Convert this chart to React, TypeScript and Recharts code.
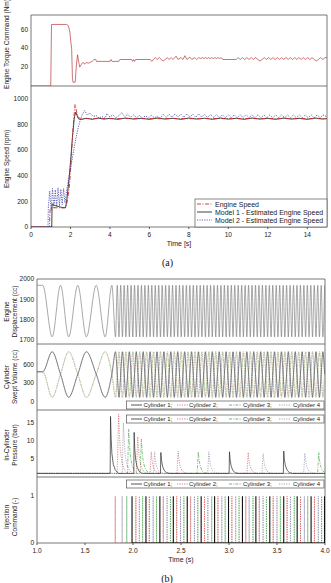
import React from "react";
import { LineChart, Line, XAxis, YAxis, ReferenceArea } from "recharts";

type Pt = [number, number];

const FONT = "'Liberation Sans', Arial, sans-serif";
const AX = "#555";

// ---------- (a) torque command and engine speed, time in s ----------
const torqueCommand: Pt[] = [
  [0, 0], [1.0, 0], [1.04, 65], [1.8, 65], [1.88, 64], [1.94, 60], [1.98, 55], [2.02, 46], [2.06, 40], [2.1, 8],
  [2.13, 4], [2.24, 4], [2.3, 22], [2.36, 33], [2.42, 25], [2.47, 20], [2.56, 23], [2.64, 25], [2.72, 23], [2.8, 25],
  [2.9, 24], [3.0, 25], [3.1, 26], [3.2, 28], [3.28, 28], [3.32, 26], [4.0, 26], [4.05, 28], [4.1, 26], [4.45, 26],
  [4.5, 28], [5.1, 28], [5.15, 26], [5.2, 28], [5.25, 26], [5.3, 28], [6.05, 28], [6.12, 26], [6.2, 28], [6.3, 30],
  [6.4, 28], [6.5, 30], [6.6, 28], [6.7, 26.5], [6.8, 28], [6.9, 30], [7.0, 28], [7.1, 30], [7.2, 28], [7.35, 31.5],
  [7.45, 28], [7.6, 30], [7.7, 28], [7.8, 32], [7.9, 28], [8.05, 30.5], [8.15, 28], [8.3, 30], [8.4, 28], [8.5, 30],
  [8.6, 29], [8.68, 30], [8.76, 29], [8.84, 30], [8.92, 29], [9.0, 30], [9.08, 29], [9.16, 30], [9.24, 29], [9.32, 30],
  [9.4, 29], [9.48, 30], [9.56, 29], [9.64, 30], [9.72, 28], [10.4, 28], [10.5, 30], [10.61, 28], [10.72, 30], [10.83, 28],
  [10.94, 30], [11.05, 28], [11.16, 30], [11.27, 28], [11.38, 30], [11.49, 28], [11.6, 26.5], [11.71, 28], [11.82, 30], [11.93, 28],
  [12.04, 30], [12.15, 28], [12.26, 30], [12.37, 28], [12.48, 30], [12.59, 28], [12.7, 30], [12.81, 28], [12.92, 30], [13.03, 28],
  [13.14, 30], [13.25, 28], [13.36, 30], [13.47, 28], [13.58, 30], [13.69, 28], [13.8, 30], [13.91, 28], [14.02, 30], [14.13, 28],
  [14.24, 30], [14.35, 28], [14.46, 26.5], [14.57, 28], [14.68, 30], [14.79, 28], [14.9, 30], [15.0, 30],
];

const engineSpeed: Pt[] = [
  [0, 0], [0.93, 0], [0.97, 140], [1.1, 150], [1.4, 150], [1.7, 148], [1.8, 170], [1.9, 260], [1.96, 340], [2.05, 560],
  [2.14, 790], [2.23, 955], [2.3, 905], [2.38, 860], [2.5, 845], [3, 846], [4, 845], [5, 846], [6, 845], [7, 846],
  [8, 845], [9, 846], [10, 845], [11, 846], [12, 845], [13, 846], [14, 845], [15, 846],
];

const model1Speed: Pt[] = [
  [0, 0], [1.05, 0], [1.07, 180], [1.2, 168], [1.5, 155], [1.75, 150], [1.82, 220], [1.9, 330], [2.0, 500], [2.1, 700],
  [2.2, 860], [2.27, 895], [2.33, 870], [2.4, 845], [2.5, 838], [2.8, 848], [3.1, 840], [3.4, 850], [3.7, 842], [4.0, 848],
  [4.4, 840], [4.8, 850], [5.2, 842], [5.6, 848], [6.0, 840], [6.4, 850], [6.8, 842], [7.2, 848], [7.6, 840], [8.0, 850],
  [8.4, 842], [8.8, 848], [9.2, 840], [9.6, 850], [10, 842], [10.4, 848], [10.8, 840], [11.2, 850], [11.6, 842], [12, 848],
  [12.4, 840], [12.8, 850], [13.2, 842], [13.6, 848], [14, 840], [14.4, 850], [14.8, 842], [15, 846],
];

const model2Speed: Pt[] = [
  [0, 0], [0.86, 0], [0.88, 160], [0.95, 280], [1.02, 130], [1.09, 300], [1.16, 150], [1.23, 290], [1.3, 160], [1.37, 305],
  [1.44, 165], [1.51, 295], [1.58, 175], [1.65, 300], [1.72, 190], [1.8, 280], [1.9, 370], [2.0, 450], [2.1, 540], [2.2, 630],
  [2.3, 710], [2.4, 780], [2.5, 835], [2.6, 880], [2.72, 908], [2.85, 875], [3.0, 888], [3.15, 862], [3.3, 870], [3.45, 850],
  [3.6, 862], [3.75, 848], [3.85, 885], [4.0, 858], [4.15, 875], [4.3, 852], [4.45, 868], [4.6, 892], [4.75, 860], [4.9, 880],
  [5.05, 855], [5.2, 875], [5.35, 852], [5.5, 870], [5.65, 850], [5.8, 868], [5.95, 850], [6.1, 872], [6.25, 852], [6.4, 862],
  [6.55, 850], [6.7, 878], [6.85, 855], [7.0, 880], [7.15, 856], [7.3, 882], [7.45, 858], [7.6, 880], [7.75, 856], [7.9, 882],
  [8.05, 858], [8.2, 880], [8.35, 856], [8.5, 882], [8.65, 858], [8.8, 878], [8.95, 855], [9.1, 878], [9.25, 855], [9.4, 876],
  [9.55, 852], [9.7, 876], [9.85, 852], [10.0, 875], [10.15, 852], [10.3, 875], [10.45, 852], [10.6, 876], [10.75, 853], [10.9, 876],
  [11.05, 853], [11.2, 875], [11.35, 852], [11.5, 875], [11.65, 852], [11.8, 874], [11.95, 852], [12.1, 874], [12.25, 852], [12.4, 874],
  [12.55, 852], [12.7, 874], [12.85, 852], [13.0, 874], [13.15, 852], [13.3, 874], [13.45, 852], [13.6, 874], [13.75, 852], [13.9, 874],
  [14.05, 852], [14.2, 874], [14.35, 852], [14.5, 874], [14.65, 852], [14.8, 874], [15.0, 860],
];

const timeTicksA = [0, 2, 4, 6, 8, 10, 12, 14];
const timeMinorA = [1, 2, 3, 4, 5, 6, 7, 8, 9, 10, 11, 12, 13, 14];
const torqueTicks = [0, 20, 40, 60];
const speedTicks = [0, 200, 400, 600, 800, 1000];

// ---------- (b) cylinder signals, time in s ----------
// displacement top / swept volumes equal
const startTimes = [1.0, 1.06];
const crossTimes = [
  1.245, 1.425, 1.617, 1.78, 1.836, 1.872, 1.908, 1.944, 1.98, 2.016, 2.052, 2.088, 2.124, 2.16, 2.196, 2.232,
  2.268, 2.304, 2.34, 2.376, 2.412, 2.448, 2.484, 2.52, 2.556, 2.592, 2.628, 2.664, 2.7, 2.736, 2.772, 2.808,
  2.844, 2.88, 2.916, 2.952, 2.988, 3.024, 3.06, 3.096, 3.132, 3.168, 3.204, 3.24, 3.276, 3.312, 3.348, 3.384,
  3.42, 3.456, 3.492, 3.528, 3.564, 3.6, 3.636, 3.672, 3.708, 3.744, 3.78, 3.816, 3.852, 3.888, 3.924, 3.96, 3.996,
];
// swept volume of cylinders 1/4 at its top (displacement bottom)
const cyl14PeakTimes = [
  1.158, 1.515, 1.818, 1.89, 1.962, 2.034, 2.106, 2.178, 2.25, 2.322, 2.394, 2.466, 2.538, 2.61, 2.682, 2.754,
  2.826, 2.898, 2.97, 3.042, 3.114, 3.186, 3.258, 3.33, 3.402, 3.474, 3.546, 3.618, 3.69, 3.762, 3.834, 3.906, 3.978,
];
// swept volume of cylinders 2/3 at its top (displacement bottom)
const cyl23PeakTimes = [
  1.33, 1.71, 1.854, 1.926, 1.998, 2.07, 2.142, 2.214, 2.286, 2.358, 2.43, 2.502, 2.574, 2.646, 2.718, 2.79,
  2.862, 2.934, 3.006, 3.078, 3.15, 3.222, 3.294, 3.366, 3.438, 3.51, 3.582, 3.654, 3.726, 3.798, 3.87, 3.942,
];
const DISP_TOP = 1969;
const DISP_BOTTOM = 1715;
const SWEPT_START = 480;
const SWEPT_CROSS = 440;
const SWEPT_TOP = 805;
const SWEPT_BOTTOM = 65;

const pressureCyl1: Pt[] = [
  [1.0, 1], [1.762, 1], [1.766, 16.8], [1.772, 11], [1.78, 6.5], [1.795, 3.5], [1.815, 2], [1.845, 1],
  [2.008, 1], [2.012, 12.4], [2.018, 8], [2.027, 5], [2.042, 2.8], [2.065, 1.5], [2.095, 1],
  [2.286, 1], [2.29, 6.8], [2.297, 4.6], [2.308, 3], [2.325, 1.8], [2.35, 1.2], [2.38, 1],
  [3.001, 1], [3.005, 7.0], [3.012, 4.7], [3.023, 3], [3.04, 1.8], [3.065, 1.2], [3.095, 1],
  [3.566, 1], [3.57, 7.2], [3.577, 4.8], [3.588, 3.1], [3.605, 1.9], [3.63, 1.2], [3.66, 1], [4.0, 1],
];
const pressureCyl2: Pt[] = [
  [1.0, 1], [1.835, 1], [1.85, 17.5], [1.858, 12], [1.868, 7.5], [1.885, 4], [1.91, 2], [1.945, 1],
  [2.035, 1], [2.05, 11.2], [2.058, 7.8], [2.068, 5], [2.085, 2.8], [2.11, 1.6], [2.14, 1],
  [2.178, 1], [2.19, 7.0], [2.198, 4.8], [2.21, 3], [2.228, 1.8], [2.255, 1.2], [2.285, 1],
  [2.458, 1], [2.47, 7.2], [2.478, 5], [2.49, 3.1], [2.508, 1.9], [2.535, 1.2], [2.565, 1],
  [3.188, 1], [3.2, 6.8], [3.208, 4.6], [3.22, 2.9], [3.238, 1.8], [3.265, 1.2], [3.295, 1], [4.0, 1],
];
const pressureCyl3: Pt[] = [
  [1.0, 1], [1.943, 1], [1.955, 13.3], [1.963, 9], [1.973, 5.8], [1.99, 3.2], [2.015, 1.8], [2.045, 1],
  [2.075, 1], [2.087, 10.5], [2.095, 7.2], [2.105, 4.6], [2.122, 2.6], [2.148, 1.5], [2.178, 1],
  [2.668, 1], [2.68, 7.0], [2.688, 4.8], [2.7, 3], [2.718, 1.8], [2.745, 1.2], [2.775, 1],
  [3.923, 1], [3.935, 6.8], [3.943, 4.6], [3.955, 2.9], [3.973, 1.8], [4.0, 1.2],
];
const pressureCyl4: Pt[] = [
  [1.0, 1], [1.888, 1], [1.9, 15], [1.908, 10.3], [1.918, 6.5], [1.935, 3.6], [1.96, 1.9], [1.99, 1],
  [2.213, 1], [2.225, 7.0], [2.233, 4.8], [2.245, 3], [2.263, 1.8], [2.29, 1.2], [2.32, 1],
  [2.778, 1], [2.79, 7.0], [2.798, 4.8], [2.81, 3], [2.828, 1.8], [2.855, 1.2], [2.885, 1],
  [3.343, 1], [3.355, 6.5], [3.363, 4.5], [3.375, 2.8], [3.393, 1.7], [3.42, 1.2], [3.45, 1],
  [3.778, 1], [3.79, 6.6], [3.798, 4.5], [3.81, 2.9], [3.828, 1.8], [3.855, 1.2], [3.885, 1], [4.0, 1],
];

const injectionCyl1 = [1.99, 2.135, 2.28, 2.42, 2.565, 2.71, 2.85, 2.995, 3.14, 3.28, 3.425, 3.57, 3.71, 3.855, 3.995];
const injectionCyl2 = [1.815, 2.03, 2.17, 2.315, 2.455, 2.6, 2.745, 2.885, 3.03, 3.175, 3.315, 3.46, 3.605, 3.745, 3.89];
const injectionCyl3 = [1.935, 2.1, 2.245, 2.39, 2.53, 2.675, 2.82, 2.96, 3.105, 3.25, 3.39, 3.535, 3.68, 3.82, 3.965];
const injectionCyl4 = [1.887, 2.066, 2.21, 2.355, 2.495, 2.64, 2.78, 2.925, 3.07, 3.21, 3.355, 3.5, 3.64, 3.785, 3.93];

const timeTicksB = [1, 1.5, 2, 2.5, 3, 3.5, 4];
const timeMinorB = [1.25, 1.5, 1.75, 2, 2.25, 2.5, 2.75, 3, 3.25, 3.5, 3.75];
const dispTicks = [1700, 1800, 1900, 2000];
const sweptTicks = [0, 300, 600];
const pressureTicks = [0, 5, 10, 15];
const injectionTicks = [0, 1];

// ---------- tables ----------
const rows = (pts: Pt[]) => pts.map(([t, v]) => ({ t, v }));

const cycleRows = [
  ...startTimes.map((t) => ({ t, disp: DISP_TOP, s14: SWEPT_START, s23: SWEPT_START })),
  ...crossTimes.map((t) => ({ t, disp: DISP_TOP, s14: SWEPT_CROSS, s23: SWEPT_CROSS })),
  ...cyl14PeakTimes.map((t) => ({ t, disp: DISP_BOTTOM, s14: SWEPT_TOP, s23: SWEPT_BOTTOM })),
  ...cyl23PeakTimes.map((t) => ({ t, disp: DISP_BOTTOM, s14: SWEPT_BOTTOM, s23: SWEPT_TOP })),
].sort((a, b) => a.t - b.t);

const pulses = (times: number[]) =>
  times.flatMap((t) => [
    { t, v: 0 },
    { t, v: 1 },
    { t, v: 0 },
  ]);

const C1 = "#2a2a2a";
const C2 = "#d06060";
const C3 = "#55a855";
const C4 = "#8f8fae";
const DOT = "1.2 1.2";
const DASHDOT = "3 1.2 1 1.2";

const tickStyle = { fontSize: 6.5, fill: "#222", fontFamily: FONT };
const noLabel = () => "";

function Abs({ top, children }: { top: number; children: React.ReactNode }) {
  return <div style={{ position: "absolute", left: 0, top }}>{children}</div>;
}

function SideLabel({ lines, xs, cy }: { lines: string[]; xs: number[]; cy: number }) {
  return (
    <g>
      {lines.map((l, i) => (
        <text
          key={l}
          x={xs[i]}
          y={cy}
          transform={`rotate(-90 ${xs[i]} ${cy})`}
          textAnchor="middle"
          dominantBaseline="central"
          fontSize={6.5}
          fill="#222"
          fontFamily={FONT}
        >
          {l}
        </text>
      ))}
    </g>
  );
}

function CylLegend({ y }: { y: number }) {
  const items = [
    { label: "Cylinder 1;", color: C1, dash: undefined, x1: 131, x2: 142, tx: 143.5 },
    { label: "Cylinder 2;", color: C2, dash: DOT, x1: 177, x2: 188, tx: 189 },
    { label: "Cylinder 3;", color: C3, dash: DASHDOT, x1: 229, x2: 241, tx: 243 },
    { label: "Cylinder 4", color: C4, dash: DOT, x1: 279, x2: 291, tx: 293 },
  ];
  return (
    <g>
      <rect x={126.5} y={y} width={197.5} height={8} fill="#fff" stroke={AX} strokeWidth={0.7} />
      {items.map((it) => (
        <g key={it.label}>
          <line x1={it.x1} x2={it.x2} y1={y + 4} y2={y + 4} stroke={it.color} strokeWidth={0.8} strokeDasharray={it.dash} />
          <text x={it.tx} y={y + 4} dominantBaseline="central" fontSize={6} fill="#222" fontFamily={FONT}>
            {it.label}
          </text>
        </g>
      ))}
    </g>
  );
}

function Frame({ x1, x2, y1, y2 }: { x1: number; x2: number; y1: number; y2: number }) {
  return <ReferenceArea x1={x1} x2={x2} y1={y1} y2={y2} fill="none" stroke={AX} strokeWidth={0.8} ifOverflow="visible" />;
}

export default function App() {
  return (
    <div style={{ position: "fixed", left: 0, top: 0, width: 331, height: 583, background: "#fff", overflow: "hidden" }}>
      {/* (a) torque command */}
      <Abs top={0}>
        <LineChart width={331} height={86} margin={{ top: 15, right: 4, bottom: 0, left: 0 }}>
          <XAxis type="number" dataKey="t" domain={[0, 15]} ticks={timeMinorA} mirror height={0} tickSize={2}
            tickFormatter={noLabel} axisLine={false} stroke={AX} allowDataOverflow />
          <YAxis type="number" domain={[0, 75]} ticks={torqueTicks} width={31} tick={tickStyle} tickSize={0}
            tickMargin={3} axisLine={false} allowDataOverflow />
          <Line data={rows(torqueCommand)} dataKey="v" type="linear" stroke="#b83a3a" strokeWidth={0.7}
            dot={false} isAnimationActive={false} />
          <Frame x1={0} x2={15} y1={0} y2={75} />
        </LineChart>
      </Abs>

      {/* (a) engine speed */}
      <Abs top={86}>
        <LineChart width={331} height={161} margin={{ top: 0, right: 4, bottom: 0, left: 0 }}>
          <XAxis type="number" dataKey="t" domain={[0, 15]} ticks={timeTicksA} height={20} tick={tickStyle}
            tickSize={2} tickMargin={3} axisLine={false} stroke={AX} allowDataOverflow />
          <YAxis type="number" domain={[0, 1100]} ticks={speedTicks} width={31} tick={tickStyle} tickSize={0}
            tickMargin={3} axisLine={false} allowDataOverflow />
          <Line data={rows(model1Speed)} dataKey="v" type="linear" stroke="#111" strokeWidth={0.8}
            dot={false} isAnimationActive={false} />
          <Line data={rows(engineSpeed)} dataKey="v" type="linear" stroke="#d02a2a" strokeWidth={0.9}
            strokeDasharray="4 1.5 1 1.5" dot={false} isAnimationActive={false} />
          <Line data={rows(model2Speed)} dataKey="v" type="linear" stroke="#3a3aa8" strokeWidth={0.8}
            strokeDasharray={DOT} dot={false} isAnimationActive={false} />
          <Frame x1={0} x2={15} y1={0} y2={1100} />
        </LineChart>
      </Abs>

      {/* (b) engine displacement */}
      <Abs top={270}>
        <LineChart width={331} height={74} margin={{ top: 9, right: 6, bottom: 0, left: 0 }}>
          <XAxis type="number" dataKey="t" domain={[1, 4]} ticks={timeMinorB} mirror height={0} tickSize={2}
            tickFormatter={noLabel} axisLine={false} stroke={AX} allowDataOverflow />
          <YAxis type="number" domain={[1680, 2000]} ticks={dispTicks} width={37} tick={tickStyle} tickSize={0}
            tickMargin={3} axisLine={false} allowDataOverflow />
          <Line data={cycleRows} dataKey="disp" type="monotone" stroke="#6e6e6e" strokeWidth={0.6}
            dot={false} isAnimationActive={false} />
          <Frame x1={1} x2={4} y1={1680} y2={2000} />
        </LineChart>
      </Abs>

      {/* (b) swept volume */}
      <Abs top={344}>
        <LineChart width={331} height={66} margin={{ top: 0, right: 6, bottom: 0, left: 0 }}>
          <XAxis type="number" dataKey="t" domain={[1, 4]} ticks={timeMinorB} mirror height={0} tickSize={2}
            tickFormatter={noLabel} axisLine={false} stroke={AX} allowDataOverflow />
          <YAxis type="number" domain={[-140, 930]} ticks={sweptTicks} width={37} tick={tickStyle} tickSize={0}
            tickMargin={3} axisLine={false} allowDataOverflow />
          <Line data={cycleRows} dataKey="s23" type="monotone" stroke={C2} strokeWidth={0.5} strokeDasharray={DOT}
            dot={false} isAnimationActive={false} />
          <Line data={cycleRows} dataKey="s23" type="monotone" stroke="#9cc490" strokeWidth={0.7}
            strokeDasharray="3 0.8 1 0.8" dot={false} isAnimationActive={false} />
          <Line data={cycleRows} dataKey="s14" type="monotone" stroke={C4} strokeWidth={0.6} strokeDasharray={DOT}
            dot={false} isAnimationActive={false} />
          <Line data={cycleRows} dataKey="s14" type="monotone" stroke="#5a5a5a" strokeWidth={0.7}
            dot={false} isAnimationActive={false} />
          <Frame x1={1} x2={4} y1={-140} y2={930} />
        </LineChart>
      </Abs>

      {/* (b) in-cylinder pressure */}
      <Abs top={410}>
        <LineChart width={331} height={67} margin={{ top: 0, right: 6, bottom: 0, left: 0 }}>
          <XAxis type="number" dataKey="t" domain={[1, 4]} ticks={timeMinorB} mirror height={0} tickSize={2}
            tickFormatter={noLabel} axisLine={false} stroke={AX} allowDataOverflow />
          <YAxis type="number" domain={[0, 18.6]} ticks={pressureTicks} width={37} tick={tickStyle} tickSize={0}
            tickMargin={3} axisLine={false} allowDataOverflow />
          <Line data={rows(pressureCyl4)} dataKey="v" type="linear" stroke={C4} strokeWidth={0.7} strokeDasharray={DOT}
            dot={false} isAnimationActive={false} />
          <Line data={rows(pressureCyl3)} dataKey="v" type="linear" stroke={C3} strokeWidth={0.7} strokeDasharray={DASHDOT}
            dot={false} isAnimationActive={false} />
          <Line data={rows(pressureCyl2)} dataKey="v" type="linear" stroke={C2} strokeWidth={0.7} strokeDasharray={DOT}
            dot={false} isAnimationActive={false} />
          <Line data={rows(pressureCyl1)} dataKey="v" type="linear" stroke={C1} strokeWidth={0.7}
            dot={false} isAnimationActive={false} />
          <Frame x1={1} x2={4} y1={0} y2={18.6} />
        </LineChart>
      </Abs>

      {/* (b) injection command */}
      <Abs top={477}>
        <LineChart width={331} height={88} margin={{ top: 0, right: 6, bottom: 0, left: 0 }}>
          <XAxis type="number" dataKey="t" domain={[1, 4]} ticks={timeTicksB} height={22} tick={tickStyle}
            tickFormatter={(v: number) => v.toFixed(1)} tickSize={2} tickMargin={3} axisLine={false} stroke={AX}
            allowDataOverflow />
          <YAxis type="number" domain={[0, 1.41]} ticks={injectionTicks} width={37} tick={tickStyle} tickSize={0}
            tickMargin={3} axisLine={false} allowDataOverflow />
          <Line data={pulses(injectionCyl4)} dataKey="v" type="linear" stroke={C4} strokeWidth={0.8} strokeDasharray={DOT}
            dot={false} isAnimationActive={false} />
          <Line data={pulses(injectionCyl3)} dataKey="v" type="linear" stroke={C3} strokeWidth={0.8} strokeDasharray={DOT}
            dot={false} isAnimationActive={false} />
          <Line data={pulses(injectionCyl2)} dataKey="v" type="linear" stroke={C2} strokeWidth={0.8} strokeDasharray={DOT}
            dot={false} isAnimationActive={false} />
          <Line data={pulses(injectionCyl1)} dataKey="v" type="linear" stroke="#111" strokeWidth={1.1}
            dot={false} isAnimationActive={false} />
          <Frame x1={1} x2={4} y1={0} y2={1.41} />
        </LineChart>
      </Abs>

      {/* labels, legends, captions */}
      <svg width={331} height={583} style={{ position: "absolute", left: 0, top: 0, pointerEvents: "none" }}>
        <SideLabel lines={["Engine Torque Command (Nm)"]} xs={[6]} cy={44} />
        <SideLabel lines={["Engine Speed (rpm)"]} xs={[6]} cy={159} />
        <text x={179} y={243} textAnchor="middle" dominantBaseline="central" fontSize={7} fill="#222" fontFamily={FONT}>
          Time [s]
        </text>

        <rect x={195} y={199} width={132} height={28} fill="#fff" stroke={AX} strokeWidth={0.7} />
        <line x1={197} x2={212} y1={204} y2={204} stroke="#d02a2a" strokeWidth={0.9} strokeDasharray="4 1.5 1 1.5" />
        <text x={215} y={204} dominantBaseline="central" fontSize={7} fill="#222" fontFamily={FONT}>Engine Speed</text>
        <line x1={197} x2={212} y1={212} y2={212} stroke="#111" strokeWidth={0.8} />
        <text x={215} y={212} dominantBaseline="central" fontSize={7} fill="#222" fontFamily={FONT}>
          Model 1 - Estimated Engine Speed
        </text>
        <line x1={197} x2={212} y1={220} y2={220} stroke="#3a3aa8" strokeWidth={0.8} strokeDasharray={DOT} />
        <text x={215} y={220} dominantBaseline="central" fontSize={7} fill="#222" fontFamily={FONT}>
          Model 2 - Estimated Engine Speed
        </text>

        <text x={167.5} y={262.5} textAnchor="middle" dominantBaseline="central" fontSize={10} fill="#111"
          fontFamily="'Liberation Serif', 'Times New Roman', serif">
          (a)
        </text>

        <SideLabel lines={["Engine", "Displacement (cc)"]} xs={[6, 14]} cy={311.5} />
        <SideLabel lines={["Cylinder", "Swept Volume (cc)"]} xs={[6, 14]} cy={377} />
        <SideLabel lines={["In-Cylinder", "Pressure (bar)"]} xs={[6, 14]} cy={445} />
        <SideLabel lines={["Injection", "Command (-)"]} xs={[6, 14]} cy={517} />

        <CylLegend y={401} />
        <CylLegend y={415} />
        <CylLegend y={480} />

        <text x={181} y={559} textAnchor="middle" dominantBaseline="central" fontSize={7} fill="#222" fontFamily={FONT}>
          Time (s)
        </text>
        <text x={167} y={578} textAnchor="middle" dominantBaseline="central" fontSize={10} fill="#111"
          fontFamily="'Liberation Serif', 'Times New Roman', serif">
          (b)
        </text>
      </svg>
    </div>
  );
}
